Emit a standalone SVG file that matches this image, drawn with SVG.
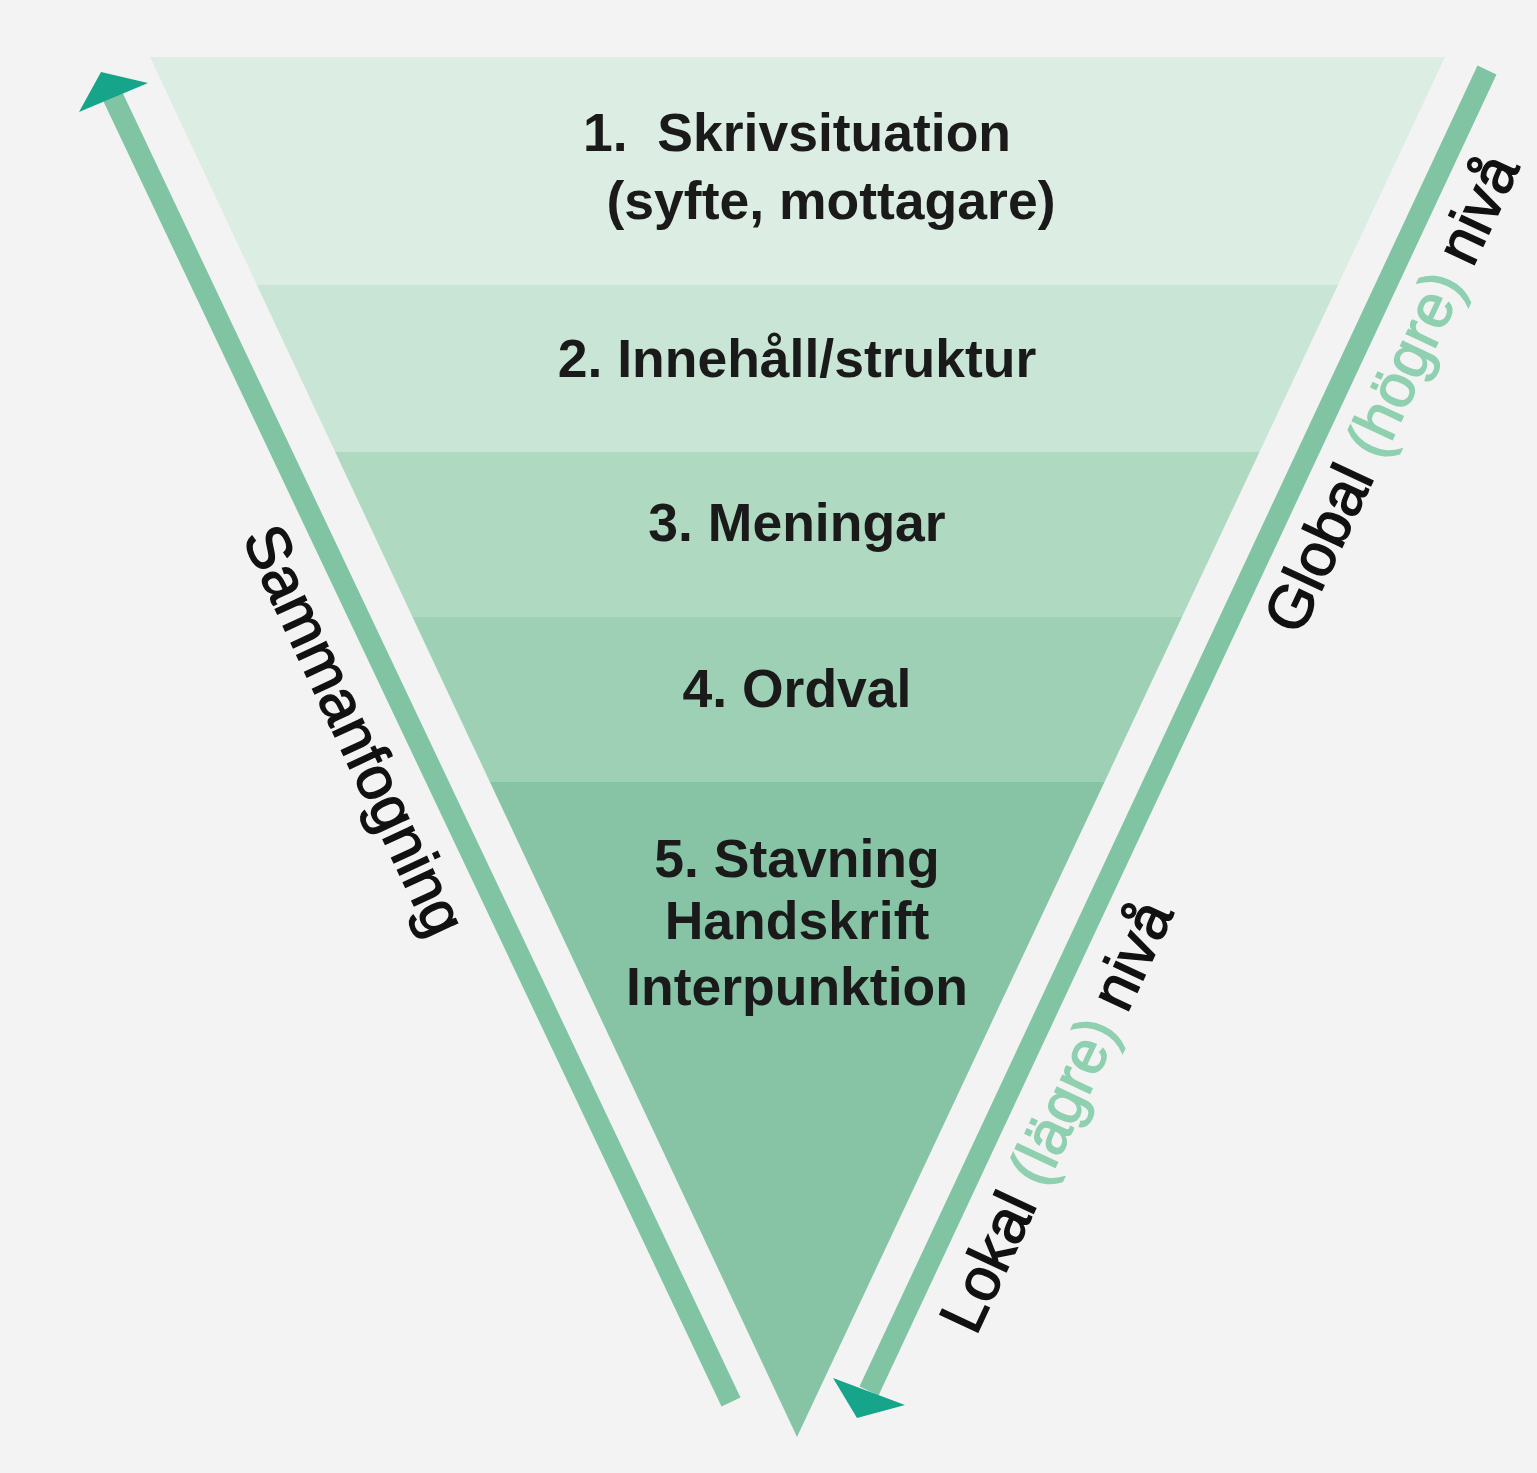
<svg xmlns="http://www.w3.org/2000/svg" width="1537" height="1473" viewBox="0 0 1537 1473">
<style>
.lbl{font-family:"Liberation Sans",Arial,sans-serif;font-weight:bold;font-size:53.5px;fill:#1a1a1a;text-anchor:middle}
.side{font-family:"Liberation Sans",Arial,sans-serif;font-size:61px;fill:#111;stroke:#111;stroke-width:1.4;text-anchor:middle}
.soft{fill:#8fd0b0;stroke:#8fd0b0}
.shaft{stroke:#80c4a3;stroke-width:21;fill:none}
.head{fill:#16a58a}
</style>
<rect width="1537" height="1473" fill="#f3f3f3"/>
<g id="level1"><polygon points="150,57 1445,57 1337.9,285 256.9,285" fill="#dcede3"/>
<text class="lbl" x="797" y="151">1.&#160; Skrivsituation</text>
<text class="lbl" x="831" y="219">(syfte, mottagare)</text></g>
<g id="level2"><polygon points="256.9,285 1337.9,285 1259.5,452 335.2,452" fill="#c9e5d5"/>
<text class="lbl" x="797" y="377">2. Innehåll/struktur</text></g>
<g id="level3"><polygon points="335.2,452 1259.5,452 1182,617 412.5,617" fill="#b0d9c2"/>
<text class="lbl" x="797" y="541">3. Meningar</text></g>
<g id="level4"><polygon points="412.5,617 1182,617 1104.5,782 489.9,782" fill="#9dd0b5"/>
<text class="lbl" x="797" y="707">4. Ordval</text></g>
<g id="level5"><polygon points="489.9,782 1104.5,782 797,1437" fill="#87c4a6"/>
<text class="lbl" x="797" y="877">5. Stavning</text>
<text class="lbl" x="797" y="939">Handskrift</text>
<text class="lbl" x="797" y="1005">Interpunktion</text></g>
<g id="connectors">
<line class="shaft" x1="731" y1="1402" x2="113" y2="97"/>
<polygon class="head" points="79,112 101,72 148,83"/>
<line class="shaft" x1="1487" y1="70" x2="869" y2="1391"/>
<polygon class="head" points="833,1378 905,1405 857,1418"/>
</g>
<g id="label-sammanfogning"><text class="side" transform="translate(336,739) rotate(64.9)">Sammanfogning</text></g>
<g id="label-global"><text class="side" transform="translate(1410,402) rotate(-64.9)">Global <tspan class="soft">(högre)</tspan> nivå</text></g>
<g id="label-lokal"><text class="side" transform="translate(1075,1125) rotate(-64.9)">Lokal <tspan class="soft">(lägre)</tspan> nivå</text></g>
</svg>
